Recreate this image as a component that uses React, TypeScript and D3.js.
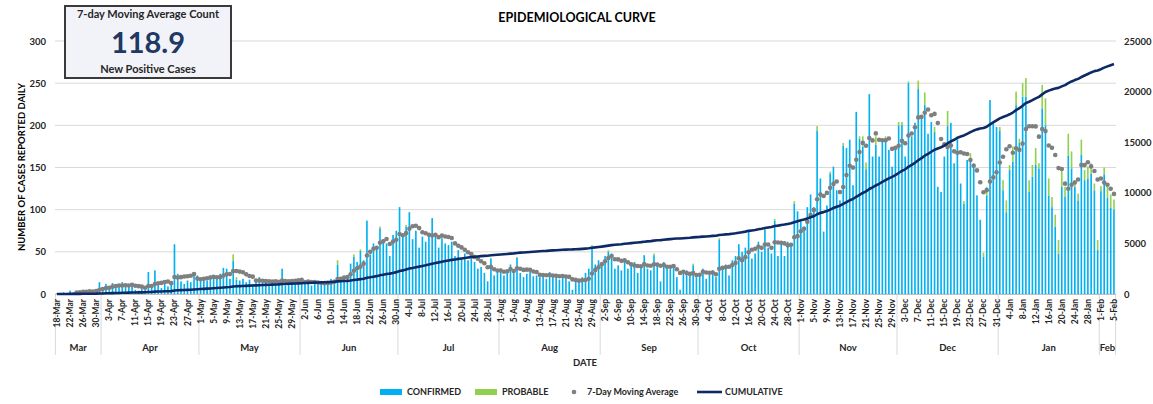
import * as d3 from "d3";

// daily counts, 18-Mar-2020 .. 5-Feb-2021 (one line per month)
const startDate = new Date(2020, 2, 18);
const endDate = new Date(2021, 1, 5);

const confirmed = [
  1, 0, 2, 1, 4, 2, 3, 2, 4, 3, 4, 3, 5, 14,
  8, 12, 6, 13, 7, 10, 14, 11, 9, 12, 5, 4, 6, 5, 26, 8, 28, 12, 7, 14, 9, 12, 59, 24, 15, 12, 16, 14, 25, 22,
  18, 20, 16, 22, 19, 21, 24, 31, 30, 18, 39, 17, 16, 18, 14, 17, 12, 15, 20, 14, 16, 12, 15, 13, 11, 30, 10, 14, 15, 17, 16,
  15, 12, 14, 10, 16, 13, 11, 14, 12, 18, 17, 35, 15, 20, 18, 36, 44, 38, 51, 40, 87, 47, 60, 55, 78, 65, 60, 45, 70, 75,
  103, 68, 80, 97, 65, 75, 55, 68, 62, 70, 90, 72, 55, 66, 60, 58, 62, 45, 52, 42, 48, 40, 42, 38, 30, 32, 25, 15, 42, 22, 28,
  30, 22, 28, 35, 26, 43, 25, 20, 24, 27, 21, 22, 20, 24, 18, 26, 22, 20, 17, 23, 19, 15, 5, 18, 14, 20, 25, 30, 56, 35, 40,
  38, 45, 50, 48, 30, 34, 28, 42, 30, 35, 38, 25, 32, 46, 30, 28, 46, 35, 15, 38, 32, 30, 35, 20, 5, 24, 28, 25, 34, 20,
  22, 30, 18, 25, 28, 20, 64, 30, 35, 22, 40, 45, 59, 50, 55, 76, 42, 48, 62, 50, 76, 55, 48, 87, 45, 60, 45, 62, 60, 107, 98,
  86, 80, 103, 118, 103, 194, 137, 74, 105, 143, 151, 123, 111, 176, 173, 183, 129, 216, 184, 175, 148, 237, 163, 177, 163, 183, 182, 171, 151, 171,
  200, 201, 163, 250, 187, 203, 243, 208, 224, 190, 204, 192, 127, 121, 163, 199, 203, 155, 183, 131, 107, 159, 157, 155, 117, 88, 44, 117, 230, 202, 198,
  194, 123, 97, 147, 157, 224, 179, 234, 234, 121, 139, 153, 149, 220, 200, 117, 103, 80, 48, 127, 115, 164, 149, 127, 111, 165, 135, 137, 143, 123, 52,
  122, 142, 114, 102, 100,
];

const probable = [
  0, 0, 0, 0, 0, 0, 0, 0, 0, 0, 0, 0, 0, 0,
  0, 0, 0, 0, 0, 0, 0, 0, 0, 0, 0, 0, 0, 0, 0, 0, 0, 0, 0, 0, 0, 0, 0, 0, 0, 0, 0, 0, 0, 0,
  0, 0, 0, 0, 0, 0, 0, 0, 0, 0, 8, 3, 0, 0, 0, 0, 0, 0, 0, 0, 0, 0, 0, 0, 0, 0, 0, 0, 0, 0, 0,
  0, 0, 0, 0, 0, 0, 0, 0, 0, 0, 0, 5, 0, 0, 0, 0, 3, 0, 2, 0, 0, 3, 0, 0, 2, 0, 0, 0, 0, 0,
  0, 2, 2, 0, 0, 0, 0, 0, 0, 0, 0, 0, 0, 2, 0, 0, 0, 0, 0, 0, 0, 0, 0, 0, 0, 0, 0, 0, 1, 0, 0,
  0, 0, 0, 0, 0, 1, 0, 0, 0, 0, 0, 0, 0, 0, 0, 0, 0, 0, 0, 0, 0, 0, 0, 0, 0, 0, 0, 0, 2, 0, 0,
  0, 0, 2, 0, 0, 0, 0, 0, 0, 0, 0, 0, 0, 0, 0, 0, 2, 0, 0, 0, 0, 0, 0, 0, 0, 0, 0, 0, 2, 0,
  0, 0, 0, 0, 0, 0, 2, 0, 0, 0, 0, 0, 0, 0, 0, 0, 0, 0, 0, 0, 2, 0, 0, 2, 0, 0, 0, 0, 0, 3, 0,
  0, 0, 0, 0, 0, 5, 0, 0, 0, 2, 0, 0, 0, 3, 0, 0, 0, 0, 3, 12, 8, 0, 0, 10, 0, 0, 5, 0, 0, 0,
  4, 3, 0, 2, 0, 0, 10, 0, 15, 0, 0, 6, 0, 0, 0, 18, 0, 0, 4, 0, 3, 0, 10, 0, 0, 0, 5, 10, 0, 0, 0,
  4, 12, 14, 6, 18, 16, 5, 16, 22, 14, 14, 20, 6, 28, 32, 20, 12, 14, 16, 20, 12, 26, 20, 8, 8, 18, 12, 14, 12, 8, 12,
  6, 8, 14, 16, 12,
];

const latestAverage = "118.9";
const leftTicks = [0, 50, 100, 150, 200, 250, 300];
const rightTicks = [0, 5000, 10000, 15000, 20000, 25000];

const FONT = "Lato, 'Open Sans', sans-serif";
const BLUE = "#00B0F0";
const GREEN = "#92D050";
const GREY = "#7F7F7F";
const NAVY = "#0E2A66";

export default function App() {
  const width = 1153, height = 404;
  const dates = d3.timeDay.range(startDate, d3.timeDay.offset(endDate, 1));
  const n = dates.length;
  const totals = dates.map((_, i) => confirmed[i] + probable[i]);
  const cumulative = Array.from(d3.cumsum(totals));
  const movingAvg = totals.map((_, i) => (i < 6 ? null : d3.mean(totals.slice(i - 6, i + 1))!));

  const x = d3.scaleBand<number>()
    .domain(d3.range(n))
    .range([55.4, 1115.6])
    .paddingInner(0.5)
    .paddingOuter(0.25);
  const step = x.step();
  const x0 = x.range()[0];
  const cx = (i: number) => x(i)! + x.bandwidth() / 2;
  const y = d3.scaleLinear().domain([0, 300]).range([294, 41]);
  const y2 = d3.scaleLinear().domain([0, 25000]).range([294, 41]);

  const fmtDay = d3.timeFormat("%-d-%b");
  const fmtMonth = d3.timeFormat("%b");

  // month groups for the second axis row
  const months: { label: string; start: number; end: number }[] = [];
  dates.forEach((d, i) => {
    const label = fmtMonth(d);
    const last = months[months.length - 1];
    if (last && last.label === label) last.end = i;
    else months.push({ label, start: i, end: i });
  });

  const cumLine = d3.line<number>()
    .x((_, i) => cx(i))
    .y((v) => y2(v))
    .curve(d3.curveLinear);

  return (
    <div style={{ position: "absolute", left: 0, top: 0 }}>
      <svg width={width} height={height} style={{ display: "block", fontFamily: FONT }}>
        <rect width={width} height={height} fill="#fff" />

        <text x={577} y={22} textAnchor="middle" fontSize={12.5} fontWeight={700} fill="#000">
          EPIDEMIOLOGICAL CURVE
        </text>

        {/* grid */}
        {leftTicks.map((t) => (
          <line key={t} x1={55} x2={1116} y1={y(t)} y2={y(t)} stroke="#D9D9D9" strokeWidth={1} />
        ))}

        {/* left axis */}
        {leftTicks.map((t) => (
          <text key={"l" + t} x={46} y={y(t) + 3.5} textAnchor="end" fontSize={9.5} fontWeight={700} fill="#262626">
            {t}
          </text>
        ))}
        <text
          transform={`translate(24.5,167) rotate(-90)`}
          textAnchor="middle"
          fontSize={9.5}
          fontWeight={700}
          fill="#000"
        >
          NUMBER OF CASES REPORTED DAILY
        </text>

        {/* right axis */}
        {rightTicks.map((t) => (
          <text key={"r" + t} x={1124} y={y2(t) + 3.5} textAnchor="start" fontSize={9.5} fontWeight={700} fill="#262626">
            {t}
          </text>
        ))}

        {/* bars */}
        {dates.map((_, i) => (
          <g key={"b" + i}>
            <rect x={x(i)} width={x.bandwidth()} y={y(confirmed[i])} height={y(0) - y(confirmed[i])} fill={BLUE} />
            {probable[i] > 0 && (
              <rect
                x={x(i)}
                width={x.bandwidth()}
                y={y(totals[i])}
                height={y(confirmed[i]) - y(totals[i])}
                fill={GREEN}
              />
            )}
          </g>
        ))}

        {/* x axis */}
        <line x1={55} x2={1116} y1={294.5} y2={294.5} stroke="#BFBFBF" />
        {months.map((m) => (
          <line
            key={"s" + m.label + m.start}
            x1={x0 + m.start * step}
            x2={x0 + m.start * step}
            y1={295}
            y2={355}
            stroke="#D9D9D9"
          />
        ))}
        <line x1={x0 + n * step} x2={x0 + n * step} y1={295} y2={355} stroke="#D9D9D9" />
        {dates.map((d, i) =>
          i % 4 === 0 ? (
            <text
              key={"d" + i}
              transform={`translate(${cx(i) + 3},299) rotate(-90)`}
              textAnchor="end"
              fontSize={8.5}
              fontWeight={700}
              fill="#262626"
            >
              {fmtDay(d)}
            </text>
          ) : null
        )}
        {months.map((m) => (
          <text
            key={"m" + m.label + m.start}
            x={x0 + ((m.start + m.end + 1) / 2) * step}
            y={351}
            textAnchor="middle"
            fontSize={9.5}
            fontWeight={700}
            fill="#262626"
          >
            {m.label}
          </text>
        ))}
        <text x={585} y={366} textAnchor="middle" fontSize={9.5} fontWeight={700} fill="#262626">
          DATE
        </text>

        {/* moving average dots */}
        {movingAvg.map((v, i) =>
          v == null ? null : <circle key={"c" + i} cx={cx(i)} cy={y(v)} r={2.3} fill={GREY} />
        )}

        {/* cumulative */}
        <path d={cumLine(cumulative) ?? ""} fill="none" stroke={NAVY} strokeWidth={2.6} strokeLinejoin="round" />

        {/* legend */}
        <g fontSize={9} fontWeight={700} fill="#262626">
          <rect x={380} y={389} width={22} height={6} fill={BLUE} />
          <text x={407} y={395}>CONFIRMED</text>
          <rect x={475} y={389} width={22} height={6} fill={GREEN} />
          <text x={502} y={395}>PROBABLE</text>
          <circle cx={574} cy={392} r={2.3} fill={GREY} />
          <text x={587} y={395}>7-Day Moving Average</text>
          <line x1={697} x2={722} y1={392} y2={392} stroke={NAVY} strokeWidth={2.6} />
          <text x={725} y={395}>CUMULATIVE</text>
        </g>

        {/* summary box */}
        <rect x={65} y={6} width={166} height={72} fill="#F2F3F8" stroke="#3A3A3A" strokeWidth={2} />
        <text x={148} y={18} textAnchor="middle" fontSize={11} fontWeight={700} fill="#262626">
          7-day Moving Average Count
        </text>
        <text x={148} y={53} textAnchor="middle" fontSize={29} fontWeight={700} fill="#1F3864">
          {latestAverage}
        </text>
        <text x={148} y={73} textAnchor="middle" fontSize={11} fontWeight={700} fill="#262626">
          New Positive Cases
        </text>
      </svg>
    </div>
  );
}
